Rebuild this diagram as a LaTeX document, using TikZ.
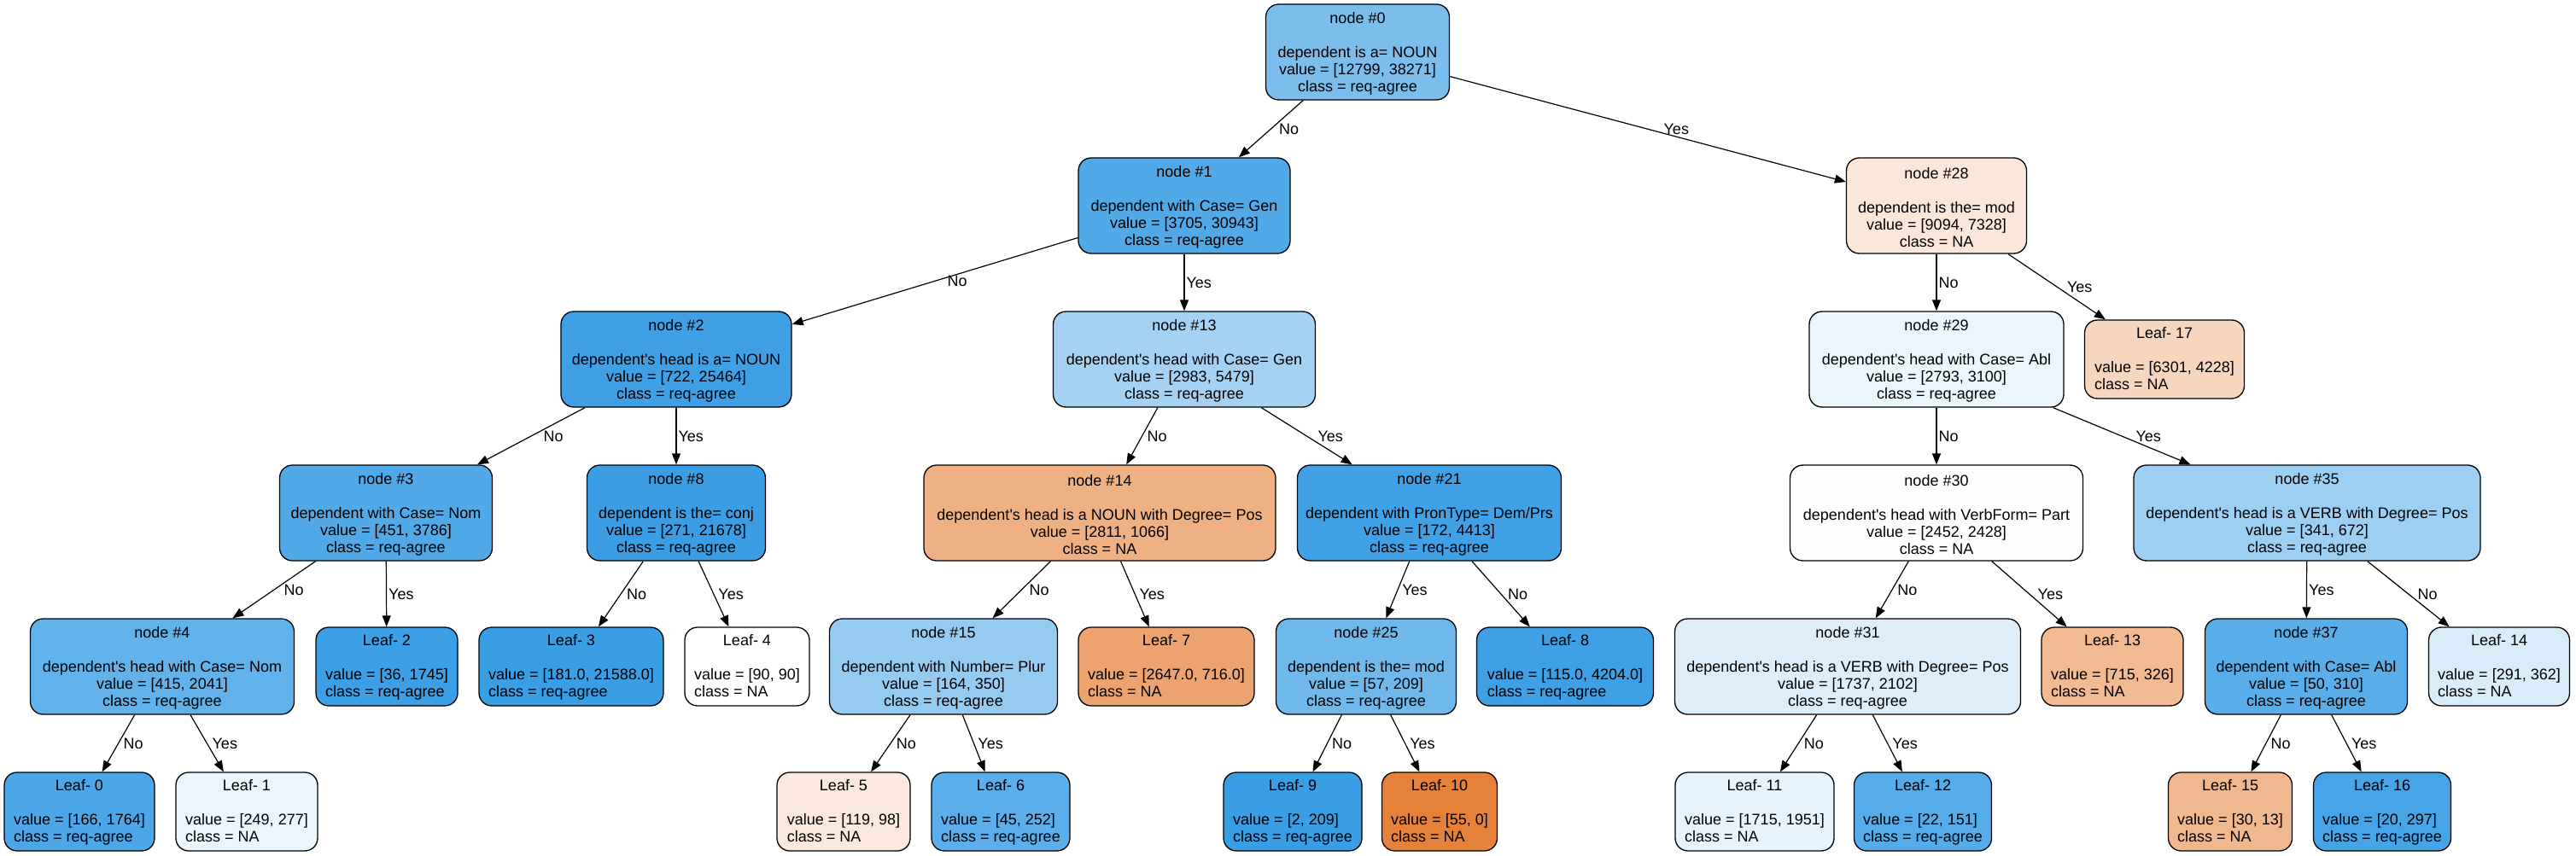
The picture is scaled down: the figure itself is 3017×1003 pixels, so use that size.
\documentclass[tikz,border=0pt]{standalone}
\usepackage{fontspec}
\setmainfont{Liberation Sans}
\usetikzlibrary{arrows.meta}
\newcommand\dtfont{\fontsize{18}{20}\selectfont}
\newcommand\ap{\textquotesingle}
\newcommand\leaftxt[3]{\begin{tabular}{@{}l@{}}\multicolumn{1}{@{}c@{}}{\rule{0pt}{17pt}#1}\\ \mbox{}\\ #2\\ #3\end{tabular}}
\newcommand\inttxt[4]{\rule{0pt}{16.7pt}#1\\\mbox{}\\#2\\#3\\#4}
\definecolor{cA}{RGB}{123,190,238}
\definecolor{cB}{RGB}{81,169,232}
\definecolor{cC}{RGB}{250,231,217}
\definecolor{cD}{RGB}{63,160,230}
\definecolor{cE}{RGB}{165,210,243}
\definecolor{cF}{RGB}{235,245,252}
\definecolor{cG}{RGB}{246,214,190}
\definecolor{cH}{RGB}{59,158,229}
\definecolor{cI}{RGB}{239,177,132}
\definecolor{cJ}{RGB}{65,161,230}
\definecolor{cK}{RGB}{255,254,253}
\definecolor{cL}{RGB}{157,207,242}
\definecolor{cM}{RGB}{97,177,234}
\definecolor{cN}{RGB}{61,159,230}
\definecolor{cO}{RGB}{58,158,229}
\definecolor{cP}{RGB}{150,203,241}
\definecolor{cQ}{RGB}{236,163,111}
\definecolor{cR}{RGB}{111,184,236}
\definecolor{cS}{RGB}{221,238,250}
\definecolor{cT}{RGB}{241,186,147}
\definecolor{cU}{RGB}{89,173,233}
\definecolor{cV}{RGB}{216,236,250}
\definecolor{cW}{RGB}{76,166,231}
\definecolor{cX}{RGB}{250,233,220}
\definecolor{cY}{RGB}{92,174,234}
\definecolor{cZ}{RGB}{229,129,57}
\definecolor{ca}{RGB}{231,243,252}
\definecolor{cb}{RGB}{86,171,233}
\definecolor{cc}{RGB}{240,184,143}
\definecolor{cd}{RGB}{70,164,231}
\begin{document}
\begin{tikzpicture}[x=1pt,y=-1pt,
  tbox/.style={draw=black, line width=1.3pt, rounded corners=15pt, inner sep=0pt,
    align=center, font=\dtfont, minimum height=112pt},
  lbox/.style={draw=black, line width=1.3pt, rounded corners=15pt, inner sep=0pt,
    font=\dtfont, minimum height=92pt},
  conn/.style={line width=1.2pt, -{Triangle[length=13pt,width=10pt]}},
  lbl/.style={font=\dtfont, inner sep=0pt, anchor=west, pos=0.5}]
\useasboundingbox (0,0) rectangle (3017,1003);
% level 0
\node[tbox, fill=cA, minimum width=215pt] (n0) at (1590,61) {\inttxt{node \#0}{dependent is a= NOUN}{value = [12799, 38271]}{class = req-agree}};
% level 1
\node[tbox, fill=cB, minimum width=248pt] (n1) at (1387,241) {\inttxt{node \#1}{dependent with Case= Gen}{value = [3705, 30943]}{class = req-agree}};
\node[tbox, fill=cC, minimum width=211pt] (n28) at (2268,241) {\inttxt{node \#28}{dependent is the= mod}{value = [9094, 7328]}{class = NA}};
% level 2
\node[tbox, fill=cD, minimum width=270pt] (n2) at (792,421) {\inttxt{node \#2}{dependent\ap s head is a= NOUN}{value = [722, 25464]}{class = req-agree}};
\node[tbox, fill=cE, minimum width=307pt] (n13) at (1387,421) {\inttxt{node \#13}{dependent\ap s head with Case= Gen}{value = [2983, 5479]}{class = req-agree}};
\node[tbox, fill=cF, minimum width=298pt] (n29) at (2268,421) {\inttxt{node \#29}{dependent\ap s head with Case= Abl}{value = [2793, 3100]}{class = req-agree}};
\node[lbox, fill=cG, minimum width=187pt] (l17) at (2535,421) {\leaftxt{Leaf- 17}{value = [6301, 4228]}{class = NA}};
% level 3
\node[tbox, fill=cB, minimum width=249pt] (n3) at (452,601) {\inttxt{node \#3}{dependent with Case= Nom}{value = [451, 3786]}{class = req-agree}};
\node[tbox, fill=cH, minimum width=209pt] (n8) at (792,601) {\inttxt{node \#8}{dependent is the= conj}{value = [271, 21678]}{class = req-agree}};
\node[tbox, fill=cI, minimum width=412pt] (n14) at (1288,601) {\inttxt{node \#14}{dependent\ap s head is a NOUN with Degree= Pos}{value = [2811, 1066]}{class = NA}};
\node[tbox, fill=cJ, minimum width=309pt] (n21) at (1674,601) {\inttxt{node \#21}{dependent with PronType= Dem/Prs}{value = [172, 4413]}{class = req-agree}};
\node[tbox, fill=cK, minimum width=343pt] (n30) at (2268,601) {\inttxt{node \#30}{dependent\ap s head with VerbForm= Part}{value = [2452, 2428]}{class = NA}};
\node[tbox, fill=cL, minimum width=406pt] (n35) at (2702,601) {\inttxt{node \#35}{dependent\ap s head is a VERB with Degree= Pos}{value = [341, 672]}{class = req-agree}};
% level 4
\node[tbox, fill=cM, minimum width=309pt] (n4) at (190,781) {\inttxt{node \#4}{dependent\ap s head with Case= Nom}{value = [415, 2041]}{class = req-agree}};
\node[lbox, fill=cN, minimum width=166pt] (l2) at (453,781) {\leaftxt{Leaf- 2}{value = [36, 1745]}{class = req-agree}};
\node[lbox, fill=cO, minimum width=216pt] (l3) at (669,781) {\leaftxt{Leaf- 3}{value = [181.0, 21588.0]}{class = req-agree}};
\node[lbox, fill=white, minimum width=146pt] (l4) at (875,781) {\leaftxt{Leaf- 4}{value = [90, 90]}{class = NA}};
\node[tbox, fill=cP, minimum width=267pt] (n15) at (1105,781) {\inttxt{node \#15}{dependent with Number= Plur}{value = [164, 350]}{class = req-agree}};
\node[lbox, fill=cQ, minimum width=206pt] (l7) at (1366,781) {\leaftxt{Leaf- 7}{value = [2647.0, 716.0]}{class = NA}};
\node[tbox, fill=cR, minimum width=211pt] (n25) at (1600,781) {\inttxt{node \#25}{dependent is the= mod}{value = [57, 209]}{class = req-agree}};
\node[lbox, fill=cD, minimum width=207pt] (l8) at (1833,781) {\leaftxt{Leaf- 8}{value = [115.0, 4204.0]}{class = req-agree}};
\node[tbox, fill=cS, minimum width=405pt] (n31) at (2164,781) {\inttxt{node \#31}{dependent\ap s head is a VERB with Degree= Pos}{value = [1737, 2102]}{class = req-agree}};
\node[lbox, fill=cT, minimum width=166pt] (l13) at (2474,781) {\leaftxt{Leaf- 13}{value = [715, 326]}{class = NA}};
\node[tbox, fill=cU, minimum width=237pt] (n37) at (2701,781) {\inttxt{node \#37}{dependent with Case= Abl}{value = [50, 310]}{class = req-agree}};
\node[lbox, fill=cV, minimum width=165pt] (l14) at (2927,781) {\leaftxt{Leaf- 14}{value = [291, 362]}{class = NA}};
% level 5
\node[lbox, fill=cW, minimum width=176pt] (l0) at (93,951) {\leaftxt{Leaf- 0}{value = [166, 1764]}{class = req-agree}};
\node[lbox, fill=cF, minimum width=166pt] (l1) at (289,951) {\leaftxt{Leaf- 1}{value = [249, 277]}{class = NA}};
\node[lbox, fill=cX, minimum width=156pt] (l5) at (988,951) {\leaftxt{Leaf- 5}{value = [119, 98]}{class = NA}};
\node[lbox, fill=cY, minimum width=162pt] (l6) at (1172,951) {\leaftxt{Leaf- 6}{value = [45, 252]}{class = req-agree}};
\node[lbox, fill=cO, minimum width=162pt] (l9) at (1514,951) {\leaftxt{Leaf- 9}{value = [2, 209]}{class = req-agree}};
\node[lbox, fill=cZ, minimum width=135pt] (l10) at (1686,951) {\leaftxt{Leaf- 10}{value = [55, 0]}{class = NA}};
\node[lbox, fill=ca, minimum width=186pt] (l11) at (2055,951) {\leaftxt{Leaf- 11}{value = [1715, 1951]}{class = NA}};
\node[lbox, fill=cb, minimum width=161pt] (l12) at (2252,951) {\leaftxt{Leaf- 12}{value = [22, 151]}{class = req-agree}};
\node[lbox, fill=cc, minimum width=145pt] (l15) at (2612,951) {\leaftxt{Leaf- 15}{value = [30, 13]}{class = NA}};
\node[lbox, fill=cd, minimum width=161pt] (l16) at (2790,951) {\leaftxt{Leaf- 16}{value = [20, 297]}{class = req-agree}};
% connectors
\draw[conn] (n0) -- node[lbl, xshift=9pt] {No} (n1);
\draw[conn] (n0) -- node[lbl, xshift=18pt] {Yes} (n28);
\draw[conn] (n1) -- node[lbl, xshift=14pt] {No} (n2);
\draw[conn] (n1) -- node[lbl, xshift=2pt] {Yes} (n13);
\draw[conn] (n28) -- node[lbl, xshift=2pt] {No} (n29);
\draw[conn] (n28) -- node[lbl, xshift=11.5pt] {Yes} (l17);
\draw[conn] (n2) -- node[lbl, xshift=14pt] {No} (n3);
\draw[conn] (n2) -- node[lbl, xshift=2pt] {Yes} (n8);
\draw[conn] (n13) -- node[lbl, xshift=5.5pt] {No} (n14);
\draw[conn] (n13) -- node[lbl, xshift=12.5pt] {Yes} (n21);
\draw[conn] (n29) -- node[lbl, xshift=2pt] {No} (n30);
\draw[conn] (n29) -- node[lbl, xshift=16pt] {Yes} (n35);
\draw[conn] (n3) -- node[lbl, xshift=11pt] {No} (n4);
\draw[conn] (n3) -- node[lbl, xshift=2pt] {Yes} (l2);
\draw[conn] (n8) -- node[lbl, xshift=6.4pt] {No} (l3);
\draw[conn] (n8) -- node[lbl, xshift=5pt] {Yes} (l4);
\draw[conn] (n14) -- node[lbl, xshift=8.6pt] {No} (n15);
\draw[conn] (n14) -- node[lbl, xshift=4.8pt] {Yes} (l7);
\draw[conn] (n21) -- node[lbl, xshift=4.7pt] {Yes} (n25);
\draw[conn] (n21) -- node[lbl, xshift=7.7pt] {No} (l8);
\draw[conn] (n30) -- node[lbl, xshift=5.8pt] {No} (n31);
\draw[conn] (n30) -- node[lbl, xshift=9.4pt] {Yes} (l13);
\draw[conn] (n35) -- node[lbl, xshift=2pt] {Yes} (n37);
\draw[conn] (n35) -- node[lbl, xshift=10.2pt] {No} (l14);
\draw[conn] (n4) -- node[lbl, xshift=5.5pt] {No} (l0);
\draw[conn] (n4) -- node[lbl, xshift=5.6pt] {Yes} (l1);
\draw[conn] (n15) -- node[lbl, xshift=6.2pt] {No} (l5);
\draw[conn] (n15) -- node[lbl, xshift=4.4pt] {Yes} (l6);
\draw[conn] (n25) -- node[lbl, xshift=5.1pt] {No} (l9);
\draw[conn] (n25) -- node[lbl, xshift=5.1pt] {Yes} (l10);
\draw[conn] (n31) -- node[lbl, xshift=5.9pt] {No} (l11);
\draw[conn] (n31) -- node[lbl, xshift=5.2pt] {Yes} (l12);
\draw[conn] (n37) -- node[lbl, xshift=5.2pt] {No} (l15);
\draw[conn] (n37) -- node[lbl, xshift=5.3pt] {Yes} (l16);
\end{tikzpicture}
\end{document}
